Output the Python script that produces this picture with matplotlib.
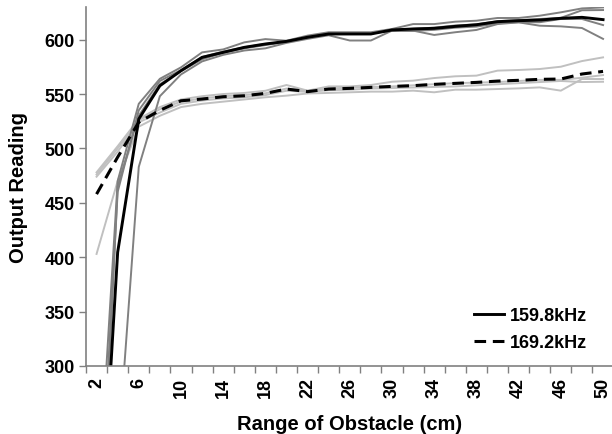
import matplotlib
matplotlib.use("Agg")
import matplotlib.pyplot as plt
import numpy as np

plt.rcParams['font.family'] = ['Liberation Sans', 'DejaVu Sans']
plt.rcParams['font.weight'] = 'bold'

# distance of obstacle (cm)
ranges = [2, 4, 6, 8, 10, 12, 14, 16, 18, 20, 22, 24, 26, 28, 30,
          32, 34, 36, 38, 40, 42, 44, 46, 48, 50]

# 159.8 kHz - four trials and the average
f1_trial1 = [150, 470, 541, 564, 574.5, 588.3, 591, 597.5, 600.5, 599, 603.7, 606.8, 606.8,
             606.8, 609.8, 614.3, 614.3, 616.5, 617.4, 619.9, 619.9, 622.0, 625.1, 628.7, 629.6]
f1_trial2 = [100, 460, 535, 562, 572, 584, 589, 593, 596, 598, 602, 605, 606,
             606, 609, 610, 611, 613, 614, 617, 618, 619, 620, 627, 627.2]
f1_trial3 = [60, 465, 530, 559, 571, 582, 588, 592, 595, 598, 602, 605, 606,
             606, 608, 608, 609, 611, 612, 615, 616, 616, 619, 619, 613.4]
f1_trial4 = [50, 215, 483, 548, 568, 580, 586, 590, 592, 597, 600.7, 604, 599.2,
             599.2, 608.3, 608.3, 604.3, 606.8, 608.9, 614.3, 615.9, 612.8, 612.2, 610.7, 600.7]
f1_mean = [80, 404.5, 527, 557.6, 571.4, 583.7, 588.3, 592.9, 596, 598.4, 602.2, 605.2, 605.2,
           605.2, 608.9, 609.8, 610.4, 612.2, 613.7, 616.5, 617.4, 618.0, 619.6, 620.5, 618.4]

# 169.2 kHz - four trials and the average
f2_trial1 = [478, 502, 527, 538, 545, 548, 550, 551, 553, 558.3, 553.1, 557, 557,
             558.3, 561.3, 562.3, 564.7, 566.3, 566.9, 571.5, 572.1, 573, 575.1, 580.3, 583.7]
f2_trial2 = [476, 500, 526, 536, 543, 546, 548, 549, 550.7, 555, 553, 555, 556,
             556.5, 557, 558, 559, 560, 560.5, 561, 562, 563, 563, 565, 567.4]
f2_trial3 = [474, 497, 524, 533, 541, 544, 546, 547, 549, 553, 552, 553.5, 554,
             555, 555.5, 556, 556.5, 557, 558, 559, 560, 561, 562, 561, 561.3]
f2_trial4 = [403, 470, 520, 530, 538, 541, 543, 545, 547, 548.5, 550.5, 551, 551.6,
             552.2, 552.2, 553.1, 551.6, 554, 554, 554.6, 555.2, 556.1, 553.1, 563.8, 563.8]
f2_mean = [458, 492, 524, 535, 543.8, 545.4, 547.5, 548.4, 550.6, 554.6, 552.2, 554.6, 555.2,
           556.1, 557, 557.7, 558.9, 559.8, 560.7, 561.9, 562.6, 563.5, 563.8, 568.4, 570.8]

x = np.arange(len(ranges))

fig = plt.figure(figsize=(6.12, 4.35), dpi=100)
ax = fig.add_axes([86 / 612, 68 / 435, (613.6 - 86) / 612, 359 / 435])

for t in [f2_trial1, f2_trial2, f2_trial3, f2_trial4]:
    ax.plot(x, t, color='#c0c0c0', lw=1.4)
for t in [f1_trial1, f1_trial2, f1_trial3, f1_trial4]:
    ax.plot(x, t, color='#808080', lw=1.4)

ax.plot(x, f1_mean, color='black', lw=2.1, label='159.8kHz')
ax.plot(x, f2_mean, color='black', lw=2.2, dashes=(3.8, 2.2), label='169.2kHz')

ax.set_xlim(-0.5, len(ranges) - 0.5)
ax.set_ylim(300, 630)
ax.set_yticks(range(300, 601, 50))

# tick marks between categories, labels on every other category
ax.set_xticks(np.arange(-0.5, len(ranges), 1.0))
ax.set_xticklabels([])
ax.set_xticks(x[::2], minor=True)
ax.set_xticklabels([str(r) for r in ranges[::2]], minor=True, rotation=90,
                   fontsize=13, fontweight='bold')
ax.tick_params(axis='x', which='minor', length=0, pad=8)
ax.tick_params(axis='x', which='major', length=5, color='#808080', width=1)
ax.tick_params(axis='y', length=5, color='#808080', width=1, labelsize=13, pad=3)

for s in ['top', 'right']:
    ax.spines[s].set_visible(False)
for s in ['left', 'bottom']:
    ax.spines[s].set_color('#808080')
    ax.spines[s].set_linewidth(1.2)

ax.set_xlabel('Range of Obstacle (cm)', fontsize=14.5, fontweight='bold', labelpad=12)
ax.set_ylabel('Output Reading', fontsize=14.5, fontweight='bold', labelpad=12)

ax.legend(loc='lower right', bbox_to_anchor=(0.98, -0.003), frameon=False,
          handlelength=1.7, handletextpad=0.3, labelspacing=0.55,
          prop={'size': 13, 'weight': 'bold'})

fig.savefig('out.png', dpi=100)
